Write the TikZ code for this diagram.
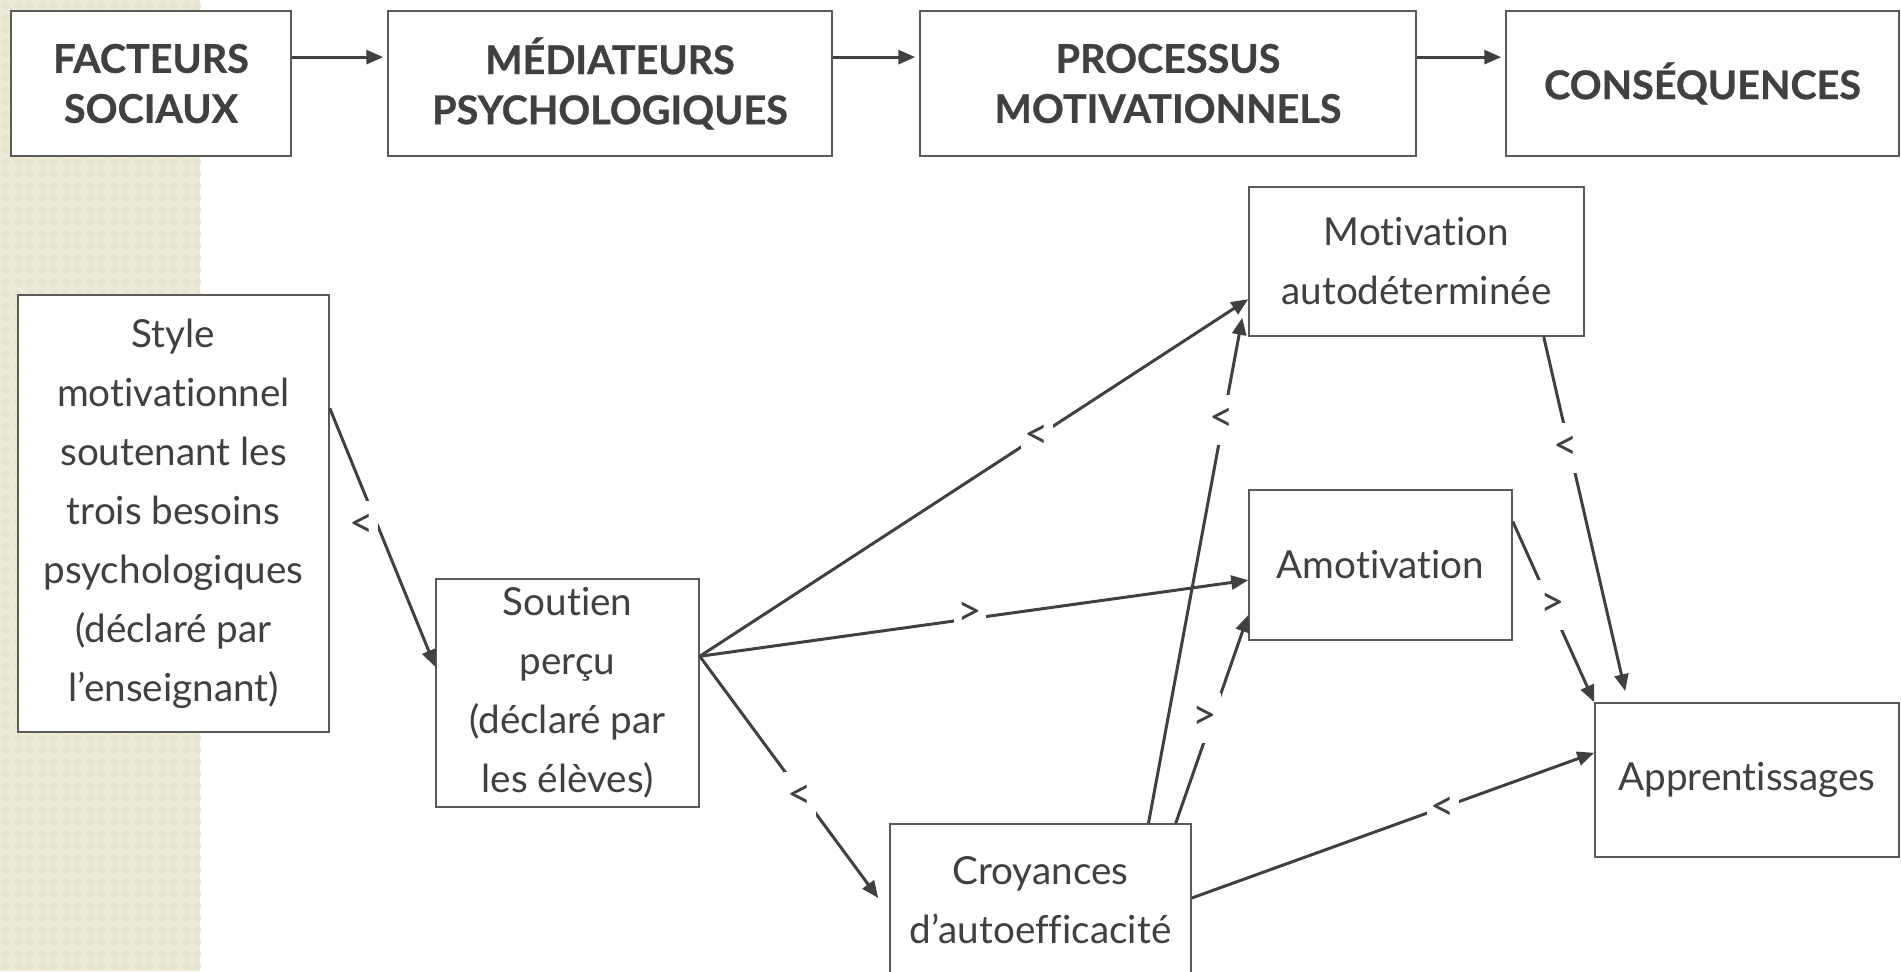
\documentclass[tikz,border=0pt]{standalone}
\usepackage{fontspec}
\setmainfont{Lato}[Ligatures=NoCommon]
\newfontfamily\headfont[FakeBold=0.7]{Lato}
\usetikzlibrary{arrows.meta,calc}
\definecolor{ink}{HTML}{404040}
\definecolor{frame}{HTML}{5A5A5A}
\definecolor{strip}{HTML}{EDE9D7}
\definecolor{stripdot}{HTML}{E2DDC6}
\begin{document}
\begin{tikzpicture}[x=0.02cm,y=-0.02cm,
  box/.style={draw=frame, line width=0.9pt, fill=white, text=ink, align=center, inner sep=0pt},
  head/.style={box, font=\headfont\bfseries\fontsize{22.5}{28.5}\selectfont},
  body/.style={box, font=\fontsize{22}{33.6}\selectfont},
  link/.style={draw=ink, line width=1.7pt, -{Triangle[length=0.34cm,width=0.28cm]}},
  sign/.style={fill=white, text=ink, inner sep=0pt, minimum width=0.64cm,
    minimum height=1.0cm, font=\fontsize{24}{24}\selectfont}
]
\useasboundingbox (0,0) rectangle (1901,971);
% textured side band
\fill[strip] (0,0) rectangle (200,971);
\foreach \i in {0,...,16}{
  \foreach \j in {0,...,80}{
    \draw[stripdot, line width=0.5pt] (6+12*\i,6+12*\j) circle[radius=2.6];
  }
}

% stages of the model
\node[head, minimum width=5.6cm,  minimum height=2.9cm] (fs)   at (151,83.5)    {FACTEURS\\SOCIAUX};
\node[head, minimum width=8.88cm, minimum height=2.9cm] (med)  at (610,83.5)    {MÉDIATEURS\\PSYCHOLOGIQUES};
\node[head, minimum width=9.92cm, minimum height=2.9cm] (proc) at (1168,83.5)   {PROCESSUS\\MOTIVATIONNELS};
\node[head, minimum width=7.86cm, minimum height=2.9cm] (cons) at (1702.5,83.5) {CONSÉQUENCES};

\draw[link, shorten >=0.08cm] ($(fs.north east)!0.32!(fs.south east)$)     -- ($(med.north west)!0.32!(med.south west)$);
\draw[link, shorten >=0.08cm] ($(med.north east)!0.32!(med.south east)$)   -- ($(proc.north west)!0.32!(proc.south west)$);
\draw[link, shorten >=0.08cm] ($(proc.north east)!0.32!(proc.south east)$) -- ($(cons.north west)!0.32!(cons.south west)$);

% variables
\node[body, minimum width=6.22cm, minimum height=8.74cm] (style) at (173.5,513.5)
  {Style\\motivationnel\\soutenant les\\trois besoins\\psychologiques\\(déclaré par\\l’enseignant)};
\node[body, minimum width=5.26cm, minimum height=4.56cm] (soutien) at (567.5,693)
  {Soutien\\perçu\\(déclaré par\\les élèves)};
\node[body, minimum width=6.7cm,  minimum height=2.98cm] (motiv) at (1416.5,261.5)
  {Motivation\\autodéterminée};
\node[body, minimum width=5.26cm, minimum height=3.0cm]  (amot)  at (1380.5,565) {Amotivation};
\node[body, minimum width=6.02cm, minimum height=3.04cm] (croy)  at (1040.5,900)
  {Croyances\\d’autoefficacité};
\node[body, minimum width=6.08cm, minimum height=3.08cm] (appr)  at (1747,780) {Apprentissages};

% paths between the variables
\coordinate (sout-out) at ($(soutien.north east)!0.34!(soutien.south east)$);
\draw[link] ($(style.north east)!0.26!(style.south east)$) -- ($(soutien.north west)!0.386!(soutien.south west)$);
\draw[link] (sout-out) -- ($(motiv.north west)!0.75!(motiv.south west)$);
\draw[link] (sout-out) -- ($(amot.north west)!0.6!(amot.south west)$);
\draw[link] (sout-out) -- ($(croy.west)+(-11,-2)$);
\draw[link] ($(croy.north west)!0.857!(croy.north east)$) -- ($(motiv.south west)+(-6,-19)$);
\draw[link] ($(croy.north west)!0.947!(croy.north east)$) -- ($(amot.north west)!0.83!(amot.south west)$);
\draw[link] ($(croy.north east)!0.487!(croy.south east)$) -- ($(appr.north west)!0.325!(appr.south west)$);
\draw[link] ($(motiv.south west)!0.878!(motiv.south east)$) -- ($(appr.north west)+(31,-11)$);
\draw[link] ($(amot.north east)!0.213!(amot.south east)$) -- (appr.north west);

% signs of the effects
\node[sign] (s1) at (362,526)  {<};
\node[sign] (s2) at (1037,437) {<};
\node[sign] (s3) at (970,614)  {>};
\node[sign] (s4) at (800,797)  {<};
\node[sign] (s5) at (1222,420) {<};
\node[sign] (s6) at (1205,718) {>};
\node[sign] (s7) at (1443,809) {<};
\node[sign] (s8) at (1566,448) {<};
\node[sign] (s9) at (1553,605) {>};
\end{tikzpicture}
\end{document}
